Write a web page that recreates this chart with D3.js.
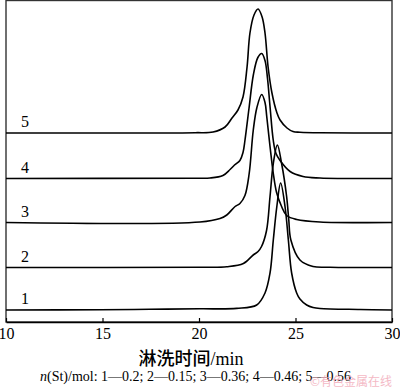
<!DOCTYPE html>
<html>
<head>
<meta charset="utf-8">
<script src="https://cdn.jsdelivr.net/npm/d3@7"></script>
<style>
  html, body { margin: 0; padding: 0; background: #fff; }
  svg { display: block; }
</style>
</head>
<body>
<svg id="chart" width="400" height="390"></svg>
<script>
// ---- data (elution time in min, detector response) ----
const curveLabels = ["1", "2", "3", "4", "5"];
const curveOffsets = [12, 54.5, 99.5, 143.5, 189];
const curve1 = [[10,0],[14.87,0.3],[17.46,0.7],[20.05,1.2],[21.95,1.6],[22.99,5],[23.42,17],[23.68,37],[23.85,70],[24.03,103],[24.23,127],[24.46,103],[24.63,70],[24.8,37],[25.06,17],[25.23,11],[25.58,5],[25.91,2.5],[26.27,1.5],[28.34,0.5],[30,0]];
const curve2 = [[10,0],[20.05,0.3],[21.44,0.8],[22.3,4],[22.81,12.5],[23.06,16],[23.24,21],[23.5,37],[23.68,71],[23.85,104],[24.06,122.5],[24.28,104],[24.54,71],[24.65,48],[24.76,27.5],[25.23,7.5],[25.91,1],[26.79,0.3],[30,0]];
const curve3 = [[10,0],[20.05,0.5],[21.09,4],[21.44,7.5],[21.87,16],[22.12,19],[22.38,27],[22.6,49],[22.81,92],[23.0,115],[23.25,128],[23.42,120],[23.51,106],[23.68,76],[23.85,49],[24.02,30],[24.28,16],[24.54,7],[25.06,3],[26.27,0.5],[30,0]];
const curve4 = [[10,0],[19.8,0.3],[20.57,0.5],[21.24,3],[21.61,9],[21.84,13.5],[22.12,18],[22.28,26],[22.38,38],[22.59,70],[22.82,104],[23.05,121],[23.25,125],[23.42,118],[23.55,100],[23.68,72],[23.85,38],[23.99,25],[24.2,18],[24.72,7],[25.39,2],[26.27,0.5],[30,0]];
const curve5 = [[10,0],[17.5,0],[19.8,0.3],[20.73,1],[21.35,6],[21.71,15],[22.02,23],[22.28,36],[22.49,66],[22.64,100],[22.85,118],[23.06,124],[23.27,116],[23.42,100],[23.58,66],[23.78,40],[24.04,20],[24.2,13],[24.56,5],[24.87,1.5],[25.23,0.8],[26.27,0.2],[30,0]];
const curves = [curve1, curve2, curve3, curve4, curve5];
const xTicks = [10, 15, 20, 25, 30];
const xTitle = "淋洗时间/min";
const noteItalic = "n";
const noteRest = "(St)/mol: 1—0.2; 2—0.15; 3—0.36; 4—0.46; 5—0.56";
const watermark = "©有色金属在线";

// ---- layout ----
const mLeft = 6, mRight = 392, mTop = 0.5, mBottom = 322;
const svg = d3.select("#chart");
const x = d3.scaleLinear().domain([10, 30]).range([mLeft, mRight]);
const y = d3.scaleLinear().domain([0, 321.5]).range([mBottom, mTop]);
const serif = "'Liberation Serif', 'Times New Roman', 'Noto Sans CJK SC', serif";

// frame
svg.append("rect")
  .attr("x", mLeft).attr("y", mTop)
  .attr("width", mRight - mLeft).attr("height", mBottom - mTop)
  .attr("fill", "none").attr("stroke", "#333").attr("stroke-width", 1.4);

// curves
const line = d3.line()
  .x(d => x(d[0]))
  .y(d => y(d[1]))
  .curve(d3.curveCatmullRom.alpha(0.5));

curves.forEach((c, i) => {
  const off = curveOffsets[i];
  svg.append("path")
    .datum(c.map(d => [d[0], d[1] + off]))
    .attr("d", line)
    .attr("fill", "none")
    .attr("stroke", "#000")
    .attr("stroke-width", 1.6)
    .attr("stroke-linejoin", "round");
  svg.append("text")
    .attr("x", 25).attr("y", y(off) - 6)
    .attr("text-anchor", "middle")
    .attr("font-family", serif).attr("font-size", 16)
    .text(curveLabels[i]);
});

// x axis
const axis = d3.axisBottom(x).tickValues(xTicks).tickSize(-4).tickSizeOuter(0).tickPadding(6);
const gx = svg.append("g").attr("transform", `translate(0,${mBottom})`).call(axis);
gx.select(".domain").attr("stroke", "#000").attr("stroke-width", 1.4);
gx.selectAll(".tick line").attr("stroke", "#000").attr("stroke-width", 1.2);
gx.selectAll(".tick text").attr("font-family", serif).attr("font-size", 16).attr("fill", "#000");

// axis title
svg.append("text")
  .attr("x", 191).attr("y", 365)
  .attr("text-anchor", "middle")
  .attr("font-family", serif).attr("font-size", 18)
  .attr("font-weight", 500)
  .attr("fill", "#000")
  .text(xTitle);

// note
const note = svg.append("text")
  .attr("x", 40).attr("y", 381)
  .attr("font-family", serif).attr("font-size", 14).attr("fill", "#000");
note.append("tspan").attr("font-style", "italic").text(noteItalic);
note.append("tspan").text(noteRest);

// watermark (faint, lies partly under the note as in the reference)
svg.append("text")
  .attr("x", 392).attr("y", 386)
  .attr("text-anchor", "end")
  .attr("font-family", "'Noto Sans CJK SC', sans-serif").attr("font-size", 12)
  .attr("fill", "#f2a9b8").attr("opacity", 0.8)
  .text(watermark);
</script>
</body>
</html>
